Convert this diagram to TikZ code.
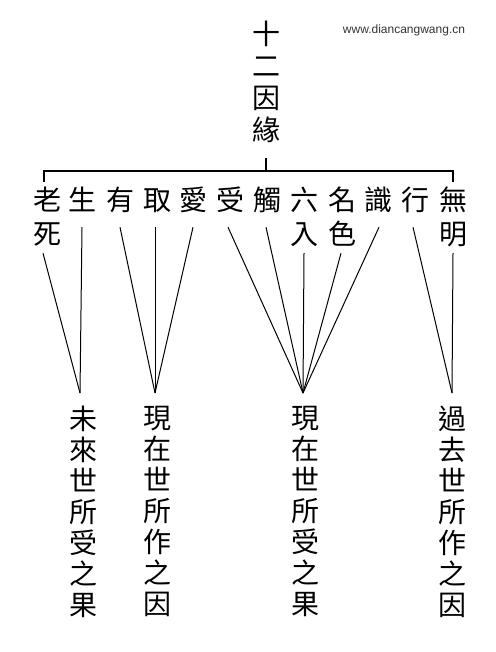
\documentclass[tikz,border=0pt]{standalone}
\usepackage{fontspec}
\newfontfamily\cjk{Noto Sans CJK TC}
\newfontfamily\webfont{Liberation Sans}
\usepackage{tikz}
\usetikzlibrary{positioning, calc}

\begin{document}
\begin{tikzpicture}[x=1pt, y=-1pt,
    zi/.style={inner sep=0pt, font=\cjk\fontsize{28}{28}\selectfont,
               text height=24.6pt, text depth=3.4pt},
    col/.style={inner sep=0pt, anchor=north, align=center,
                font=\cjk\fontsize{28}{31}\selectfont},
    link/.style={line width=1pt}]
    \useasboundingbox (0,0) rectangle (495,652);

    % title and watermark
    \node[inner sep=0pt, anchor=north, align=center,
          font=\cjk\fontsize{28}{32}\selectfont] (title) at (266,21)
          {十\\二\\因\\緣};
    \node[inner sep=0pt, font=\webfont\fontsize{12}{12}\selectfont,
          text=black!80] (web) at (404,30) {www.diancangwang.cn};

    % bracket
    \coordinate (barM) at (266,171);
    \coordinate (barL) at (44,171);
    \coordinate (barR) at (453,171);
    \draw[line width=1.1pt] ([yshift=-15pt]title.south) -- (barM);
    \draw[line width=1.1pt] ($(barL)+(0,11)$) -- (barL) -- (barR) -- ($(barR)+(0,11)$);

    % twelve links
    \node[zi] (lao)   at (47,200)  {老};
    \node[zi] (si)    at (47,234)  {死};
    \node[zi] (sheng) at (82,200)  {生};
    \node[zi] (you)   at (120,200) {有};
    \node[zi] (qu)    at (157,200) {取};
    \node[zi] (ai)    at (193,200) {愛};
    \node[zi] (shou)  at (230,200) {受};
    \node[zi] (chu)   at (267,200) {觸};
    \node[zi] (liu)   at (304,200) {六};
    \node[zi] (ru)    at (304,234) {入};
    \node[zi] (ming)  at (342,200) {名};
    \node[zi] (se)    at (342,234) {色};
    \node[zi] (shi)   at (378,200) {識};
    \node[zi] (xing)  at (415,200) {行};
    \node[zi] (wu)    at (453,200) {無};
    \node[zi] (mingl) at (453,234) {明};

    % meeting points
    \coordinate (weilai)  at (80,393);
    \coordinate (zuoyin)  at (155,393);
    \coordinate (shouguo) at (303,393);
    \coordinate (guoqu)   at (452,393);

    \draw[link] ([xshift=-4pt,yshift=-5pt]si.south) -- (weilai);
    \draw[link] ([yshift=-13pt]sheng.south) -- (weilai);
    \draw[link] ([yshift=-13pt]you.south) -- (zuoyin);
    \draw[link] ([xshift=-2pt,yshift=-13pt]qu.south) -- (zuoyin);
    \draw[link] ([yshift=-13pt]ai.south) -- (zuoyin);
    \draw[link] ([xshift=-2pt,yshift=-13pt]shou.south) -- (shouguo);
    \draw[link] ([xshift=-1pt,yshift=-13pt]chu.south) -- (shouguo);
    \draw[link] ([yshift=-5pt]ru.south) -- (shouguo);
    \draw[link] ([xshift=-1pt,yshift=-5pt]se.south) -- (shouguo);
    \draw[link] ([xshift=1pt,yshift=-13pt]shi.south) -- (shouguo);
    \draw[link] ([xshift=-2pt,yshift=-13pt]xing.south) -- (guoqu);
    \draw[link] ([yshift=-5pt]mingl.south) -- (guoqu);

    % the four results
    \node[col] (fut)  at (83,406)  {未\\來\\世\\所\\受\\之\\果};
    \node[col] (pres) at (157,406) {現\\在\\世\\所\\作\\之\\因};
    \node[col] (recv) at (305,406) {現\\在\\世\\所\\受\\之\\果};
    \node[col] (past) at (452,406) {過\\去\\世\\所\\作\\之\\因};
\end{tikzpicture}
\end{document}
